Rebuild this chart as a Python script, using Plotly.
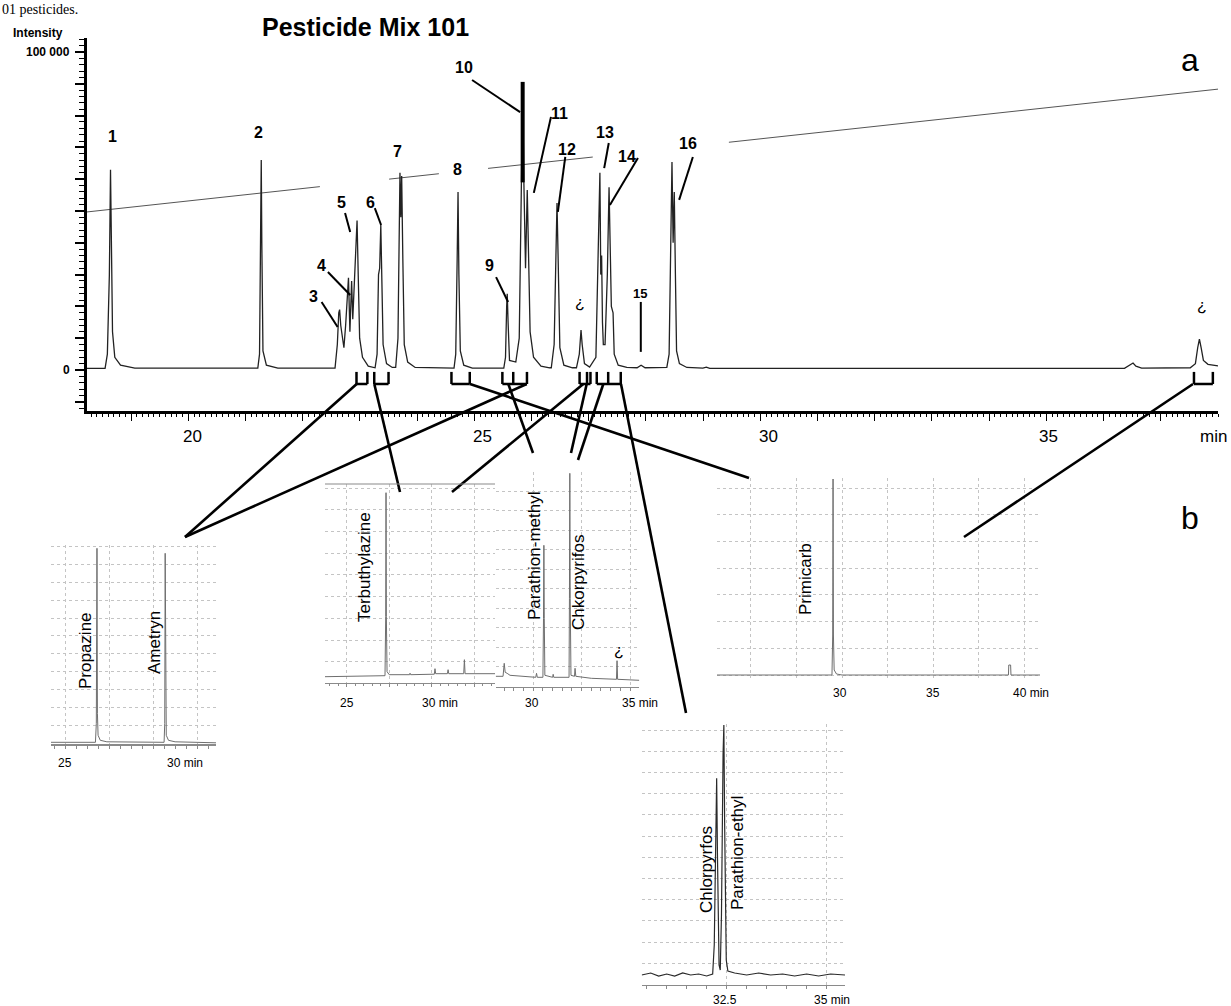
import plotly.graph_objects as go

W, H = 1231, 1006

# ---------------- main chromatogram (time in min, intensity) ----------------
chrom_t = [18.229, 18.545, 18.585, 18.62, 18.64, 18.655, 18.675, 18.715, 18.815, 19.065,
           21.215, 21.245, 21.265, 21.275, 21.285, 21.305, 21.365, 21.565,
           22.565, 22.605, 22.63, 22.645, 22.665, 22.72, 22.75, 22.785, 22.80, 22.825, 22.855,
           22.875, 22.90, 22.925, 22.95, 22.97, 22.995, 23.045, 23.145,
           23.265, 23.30, 23.325, 23.345, 23.365, 23.385, 23.405, 23.465, 23.565,
           23.625, 23.665, 23.685, 23.70, 23.715, 23.73, 23.75, 23.775, 23.835, 23.965,
           24.645, 24.675, 24.70, 24.715, 24.73, 24.755, 24.815, 24.965,
           25.515, 25.545, 25.565, 25.575, 25.59, 25.615,
           25.725, 25.785, 25.82, 25.845, 25.865, 25.895, 25.925, 25.945, 25.975, 26.035, 26.165, 26.315,
           26.345, 26.395, 26.425, 26.445, 26.465, 26.495, 26.565, 26.715,
           26.785, 26.835, 26.865, 26.885, 26.925, 27.015,
           27.125, 27.175, 27.195, 27.21, 27.225, 27.24, 27.255, 27.285, 27.325, 27.355, 27.375,
           27.395, 27.425, 27.445, 27.515, 27.665,
           27.845, 27.915, 27.985,
           28.365, 28.405, 28.435, 28.455, 28.475, 28.495, 28.515, 28.535, 28.585, 28.715,
           28.995, 29.055, 29.115, 32.0, 35.0,
           36.365, 36.485, 36.515, 36.565, 36.665,
           37.515, 37.605, 37.645, 37.675, 37.705, 37.745, 37.825, 37.915, 38.0]
chrom_i = [500, 500, 5000, 30000, 63000, 40000, 12000, 4000, 1500, 600,
           600, 5000, 40000, 66000, 40000, 6000, 1500, 600,
           600, 8000, 18000, 19000, 14000, 7000, 14000, 28000, 29000, 12000, 28000,
           16000, 25000, 38000, 47000, 30000, 10000, 4000, 1200,
           700, 5000, 30000, 32000, 45600, 30000, 8000, 2000, 800,
           800, 10000, 40000, 62000, 48000, 61000, 35000, 8000, 2500, 800,
           600, 5000, 35000, 56000, 30000, 6000, 1500, 600,
           600, 4000, 20000, 24000, 15000, 3000,
           2500, 10000, 55000, 90600, 60000, 32000, 56600, 40000, 12000, 4000, 1200, 700,
           700, 8000, 40000, 52500, 35000, 7000, 1500, 700,
           700, 5000, 12600, 8000, 2000, 900,
           4000, 40000, 62000, 30000, 36000, 15000, 8000, 8000, 30000, 57500, 40000,
           20000, 18000, 5000, 1500, 800,
           700, 1500, 700,
           800, 5000, 40000, 65400, 40000, 56000, 30000, 6000, 2000, 800,
           600, 900, 500, 400, 500,
           500, 2000, 2200, 1200, 600,
           700, 2000, 7000, 9700, 7000, 3000, 1800, 1500, 1300]

bar10_t = [25.845, 25.845]
bar10_i = [59000, 90600]

temp_t = [18.229, 22.30, None, 23.51, 24.38, None, 25.24, 27.07, None, 29.45, 38.0]
temp_i = [49700, 57660, None, 60020, 61720, None, 63400, 66970, None, 71620, 88320]

# peak labels: text, time, intensity
peak_labels = ["1", "2", "3", "4", "5", "6", "7", "8", "9", "10", "11", "12", "13", "14", "15", "16", "¿", "¿"]
peak_lab_t = [18.68, 21.23, 22.19, 22.33, 22.67, 23.19, 23.65, 24.71, 25.27, 24.82, 26.48, 26.62,
              27.28, 27.67, 27.90, 28.73, 26.85, 37.72]
peak_lab_i = [73300, 74800, 23000, 33000, 52800, 52800, 68600, 62900, 33000, 95000, 80800, 69200,
              74800, 67000, 24200, 71100, 21100, 20400]

# leader lines (t0, i0, t1, i1)
leaders = [(22.33, 21400, 22.61, 13500), (22.44, 30800, 22.83, 23600), (22.74, 49400, 22.83, 43400),
           (23.26, 50900, 23.37, 45600), (25.38, 29200, 25.59, 21400), (24.96, 91200, 25.80, 81100),
           (26.34, 79600, 26.04, 55700), (26.59, 67000, 26.46, 49700), (27.35, 71400, 27.27, 63500),
           (27.86, 66700, 27.37, 51900), (27.91, 21400, 27.91, 5700), (28.82, 67000, 28.58, 53500)]

# brackets under the baseline (tick times)
brackets = [[22.94, 23.13], [23.25, 23.50], [24.60, 24.92], [25.49, 25.68, 25.92],
            [26.84, 26.97, 27.03], [27.14, 27.34, 27.56], [37.58, 37.91]]

# ---------------- insets ----------------
insA_t = [24.36, 26.38, 26.42, 26.45, 26.47, 26.5, 26.6, 26.9, 29.5, 29.53, 29.55, 29.57, 29.6, 29.7, 30.0, 31.86]
insA_v = [1, 1, 20, 195, 30, 8, 3, 1.5, 1, 20, 190, 30, 8, 3, 1.5, 0.5]

insB_t = [23.72, 27.25, 27.29, 27.31, 27.33, 27.37, 27.5, 28.7, 28.72, 28.76, 30.15, 30.19, 30.23,
          30.92, 30.96, 31.0, 31.88, 31.92, 31.96, 33.72]
insB_v = [0, 1, 60, 184, 60, 5, 2, 2, 3.5, 2, 2.5, 8, 3, 3, 7, 3, 3, 17, 3, 3]

insC_t = [28.06, 28.44, 28.5, 28.55, 28.65, 28.8, 30.13, 30.17, 30.21, 30.5, 30.53, 30.55, 30.57, 30.6,
          31.0, 31.03, 31.06, 31.85, 31.87, 31.89, 31.91, 31.95, 32.13, 32.16, 32.2, 33.0, 34.3, 34.33,
          34.36, 35.48]
insC_v = [2, 2, 15, 6, 5, 3, 1, 5, 1, 1, 60, 133, 60, 3, 1, 4, 1, 1, 80, 205, 80, 3, 2, 10, 2, 0, -1,
          17.6, -1, -2]

insD_t = [30.375, 30.6, 30.8, 31.0, 31.2, 31.4, 31.6, 31.8, 32.0, 32.15, 32.19, 32.23, 32.25, 32.27,
          32.31, 32.34, 32.37, 32.41, 32.43, 32.45, 32.49, 32.53, 32.7, 33.0, 33.3, 33.6, 33.9, 34.2,
          34.5, 34.8, 35.1, 35.46]
insD_v = [0, 2, -1, 1, -1, 2, 0, 1, -1, 1, 30, 170, 196.7, 120, 10, 5, 60, 220, 250, 150, 15, 4, 2, 0,
          2, 0, 1, -1, 1, -1, 1, 0]

insE_t = [23.15, 29.45, 29.49, 29.51, 29.53, 29.57, 29.7, 30.0, 39.12, 39.14, 39.24, 39.26, 40.85]
insE_v = [0, 0, 40, 196, 40, 5, 1, 0, 0, 10, 10, 0, 0]

compound_names = ["Propazine", "Ametryn", "Terbuthylazine", "Parathion-methyl", "Chkorpyrifos",
                  "Chlorpyrfos", "Parathion-ethyl", "Primicarb"]


def px(x):
    return x / W


def py(y):
    return 1 - y / H


fig = go.Figure()

# main
fig.add_trace(go.Scatter(x=temp_t, y=temp_i, mode="lines", line=dict(color="#555555", width=1),
                         xaxis="x", yaxis="y", hoverinfo="skip"))
fig.add_trace(go.Scatter(x=chrom_t, y=chrom_i, mode="lines", line=dict(color="#222222", width=1.3),
                         xaxis="x", yaxis="y"))
fig.add_trace(go.Scatter(x=bar10_t, y=bar10_i, mode="lines", line=dict(color="#000000", width=4),
                         xaxis="x", yaxis="y"))

# insets: (trace t, v, axis suffix, color, width)
insets = [(insA_t, insA_v, "2", "#6e6e6e", 1), (insB_t, insB_v, "3", "#6e6e6e", 1),
          (insC_t, insC_v, "4", "#6e6e6e", 1), (insD_t, insD_v, "5", "#2a2a2a", 1.2),
          (insE_t, insE_v, "6", "#6e6e6e", 1)]
for t, v, s, c, w in insets:
    fig.add_trace(go.Scatter(x=t, y=v, mode="lines", line=dict(color=c, width=w),
                             xaxis="x" + s, yaxis="y" + s))

grid = dict(showgrid=True, gridcolor="#c4c4c4", griddash="dot", gridwidth=1, zeroline=False,
            showticklabels=False)

layout = dict(
    width=W, height=H, margin=dict(l=0, r=0, t=0, b=0),
    paper_bgcolor="white", plot_bgcolor="rgba(0,0,0,0)", showlegend=False,
    xaxis=dict(domain=[px(87), px(1218)], range=[18.229, 38.0], showgrid=False, zeroline=False,
               showline=True, linecolor="black", linewidth=2.5, anchor="y",
               tickvals=list(range(19, 38)), ticktext=[""] * 19, ticks="outside", ticklen=7,
               tickwidth=1.3, tickcolor="black",
               minor=dict(dtick=0.1, ticklen=3, tickcolor="black", tickwidth=1, ticks="outside")),
    yaxis=dict(domain=[py(411), py(38)], range=[-12893, 104403], showgrid=False, zeroline=False,
               showline=True, linecolor="black", linewidth=2.5, anchor="x",
               tickvals=list(range(-10000, 100001, 10000)), ticktext=[""] * 12, ticks="outside",
               ticklen=9, tickwidth=1.5, tickcolor="black",
               minor=dict(dtick=2000, ticklen=5, tickcolor="black", tickwidth=1, ticks="outside")),
    # inset A
    xaxis2=dict(domain=[px(51), px(216)], range=[24.36, 31.86], anchor="y2", tick0=25, dtick=2,
                showline=True, linecolor="#8a8a8a", linewidth=1.5, ticks="outside", ticklen=3,
                tickcolor="#8a8a8a", minor=dict(dtick=0.5, ticklen=3, tickcolor="#8a8a8a", showgrid=False),
                **grid),
    yaxis2=dict(domain=[py(744), py(545)], range=[-0.7, 198.3], anchor="x2", tick0=0, dtick=17.9, **grid),
    # inset B
    xaxis3=dict(domain=[px(325), px(495)], range=[23.72, 33.72], anchor="y3", tick0=25, dtick=2.5,
                showline=True, linecolor="#8a8a8a", linewidth=1.2, ticks="outside", ticklen=3,
                tickcolor="#8a8a8a", minor=dict(dtick=0.5, ticklen=2, tickcolor="#8a8a8a", showgrid=False),
                **grid),
    yaxis3=dict(domain=[py(683), py(484)], range=[-6.3, 192.7], anchor="x3", tick0=15, dtick=21.7, **grid),
    # inset C
    xaxis4=dict(domain=[px(495.7), px(639.3)], range=[28.06, 35.48], anchor="y4", tick0=30, dtick=2.5,
                showline=True, linecolor="#8a8a8a", linewidth=1.2, ticks="outside", ticklen=3,
                tickcolor="#8a8a8a", minor=dict(dtick=0.5, ticklen=3, tickcolor="#8a8a8a", showgrid=False),
                **grid),
    yaxis4=dict(domain=[py(687), py(471.7)], range=[-8.7, 206.6], anchor="x4", tick0=11.6, dtick=19.5, **grid),
    # inset D
    xaxis5=dict(domain=[px(641.7), px(845)], range=[30.375, 35.46], anchor="y5", tick0=32.5, dtick=2.5,
                showline=True, linecolor="#8a8a8a", linewidth=1.2, ticks="outside", ticklen=3,
                tickcolor="#8a8a8a", minor=dict(dtick=0.5, ticklen=3, tickcolor="#8a8a8a", showgrid=False),
                **grid),
    yaxis5=dict(domain=[py(985), py(724)], range=[-10, 251], anchor="x5", tick0=11.7, dtick=21.2, **grid),
    # inset E
    xaxis6=dict(domain=[px(717), px(1040)], range=[23.15, 40.85], anchor="y6", tick0=25, dtick=2.5,
                showline=False, ticks="", **grid),
    yaxis6=dict(domain=[py(678), py(478)], range=[-3, 197], anchor="x6", tick0=0, dtick=26.7, **grid),
)
fig.update_layout(**layout)

shapes = []
# brackets
for br in brackets:
    shapes.append(dict(type="line", xref="x", yref="y", x0=br[0], x1=br[-1], y0=-4400, y1=-4400,
                       line=dict(color="black", width=2.5)))
    for tk in br:
        shapes.append(dict(type="line", xref="x", yref="y", x0=tk, x1=tk, y0=-4400, y1=-600,
                           line=dict(color="black", width=2.5)))
# leaders
for t0, i0, t1, i1 in leaders:
    shapes.append(dict(type="line", xref="x", yref="y", x0=t0, y0=i0, x1=t1, y1=i1,
                       line=dict(color="black", width=2)))

# connectors from brackets to insets (pixel positions on the page)
connectors = [(356.7, 384, 185, 537), (526.7, 384, 185, 537), (374.3, 384, 400, 492),
              (583.3, 384, 452, 492), (508.3, 384, 533, 453), (586.7, 384, 571, 453),
              (603.3, 384, 578, 460), (621, 384, 686, 713), (470, 384, 749, 478),
              (1193, 384, 964, 537)]
for x0, y0, x1, y1 in connectors:
    shapes.append(dict(type="line", xref="paper", yref="paper", x0=px(x0), y0=py(y0), x1=px(x1), y1=py(y1),
                       line=dict(color="black", width=2.6)))
# inset B top frame line
shapes.append(dict(type="line", xref="paper", yref="paper", x0=px(325), x1=px(495), y0=py(484), y1=py(484),
                   line=dict(color="#8a8a8a", width=1.2)))
fig.update_layout(shapes=shapes)

ann = []
bold = "Liberation Sans Narrow, Arial Narrow, Liberation Sans, Arial"
for txt, t, i in zip(peak_labels, peak_lab_t, peak_lab_i):
    size = 13 if txt == "15" else 16
    ann.append(dict(text="<b>%s</b>" % txt if txt != "¿" else txt, x=t, y=i, xref="x", yref="y",
                    showarrow=False, font=dict(family=bold, size=size, color="black")))


def pa(text, x, y, size, family="Liberation Sans, Arial", angle=0, xanchor="center", yanchor="middle",
       color="black"):
    ann.append(dict(text=text, x=px(x), y=py(y), xref="paper", yref="paper", showarrow=False,
                    textangle=angle, xanchor=xanchor, yanchor=yanchor,
                    font=dict(family=family, size=size, color=color)))


# titles and axis labels
pa("01 pesticides.", 0, 0, 14, family="Liberation Serif, Times New Roman", xanchor="left", yanchor="top")
pa("<b>Pesticide Mix 101</b>", 365, 27, 25)
pa("<b>Intensity</b>", 38, 33, 12)
pa("<b>100 000</b>", 72, 52, 12, xanchor="right")
pa("<b>0</b>", 72, 370, 12, xanchor="right")
for lab, x in zip(["20", "25", "30", "35", "min"], [192, 482, 768, 1048, 1213]):
    pa(lab, x, 437, 17)
pa("a", 1190, 60, 32)
pa("b", 1190, 518, 32)

# inset compound names
name_pos = [(85, 651), (154, 643), (364, 567), (534, 556), (578, 583), (706, 870), (737, 853), (805, 579)]
for name, (x, y) in zip(compound_names, name_pos):
    pa(name, x, y, 17, angle=-90)
pa("¿", 619, 650, 16)

# inset tick labels
inset_ticks = [("25", 65, 763), ("30 min", 185, 763), ("25", 347, 703), ("30 min", 440, 703),
               ("30", 532, 703), ("35 min", 640, 703), ("32.5", 725, 1000), ("35 min", 832, 1000),
               ("30", 840, 693), ("35", 933, 693), ("40 min", 1031, 693)]
for lab, x, y in inset_ticks:
    pa(lab, x, y, 12, family="Liberation Sans Narrow, Arial Narrow, Liberation Sans, Arial")

fig.update_layout(annotations=ann)
fig.write_html("out.html")
